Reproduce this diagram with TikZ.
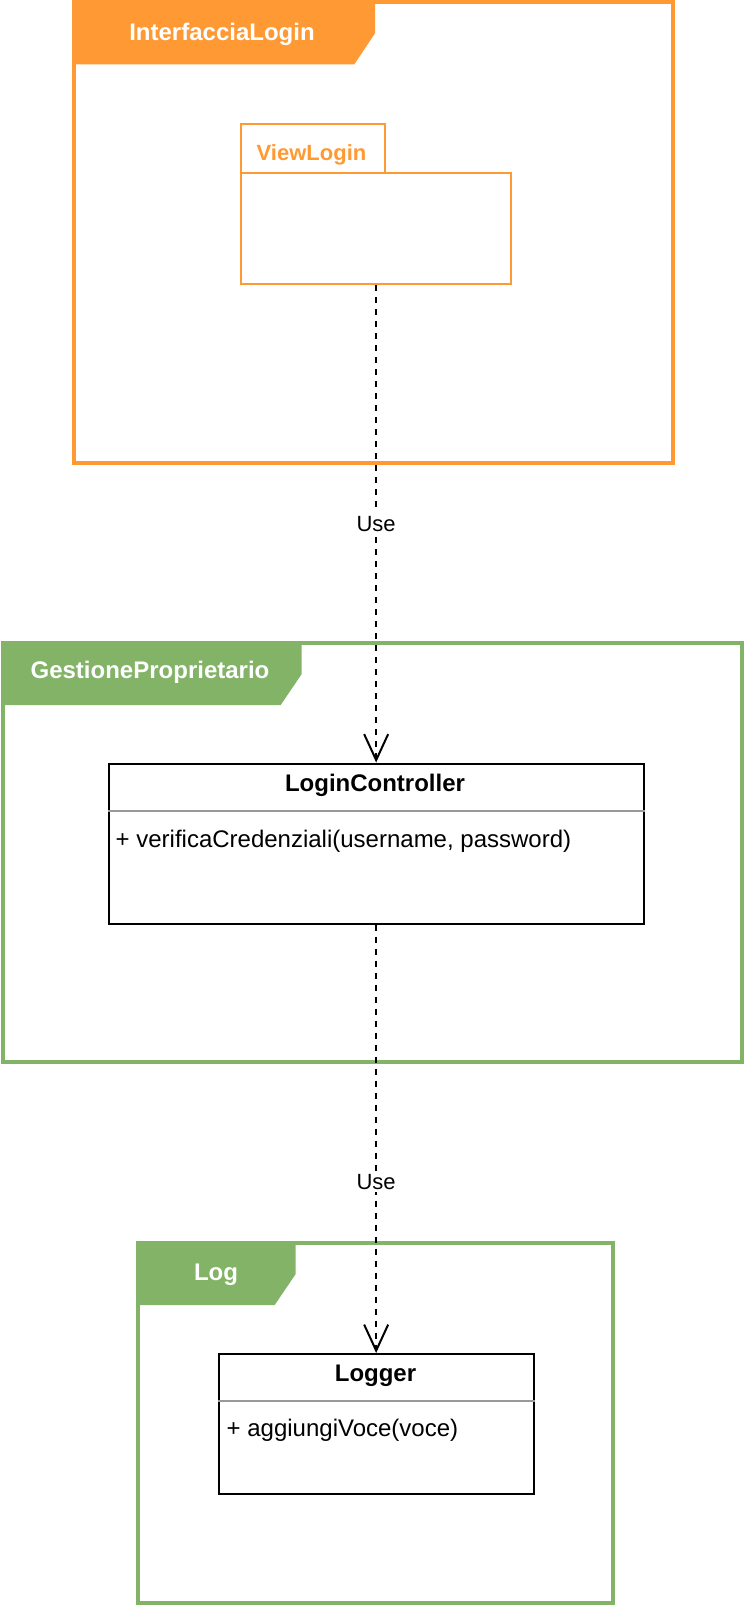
\documentclass[tikz,border=0pt]{standalone}
\usepackage{fontspec}
\setmainfont{Liberation Sans}
\usetikzlibrary{arrows.meta}
\definecolor{uorange}{HTML}{FF9933}
\definecolor{ugreen}{HTML}{82B366}
\definecolor{usep}{HTML}{999999}
\tikzset{
  framebox/.style={line width=4pt},
  classbox/.style={draw=black, line width=2pt, fill=white, anchor=north west, inner sep=0pt},
  pkgbox/.style={draw=uorange, line width=2pt, anchor=north west, inner sep=0pt},
  framelabel/.style={text=white, font=\fontsize{24}{28}\selectfont\bfseries, anchor=base, inner sep=0pt},
  classtitle/.style={font=\fontsize{24}{28}\selectfont\bfseries, anchor=base, inner sep=0pt},
  methodtext/.style={font=\fontsize{24}{28}\selectfont, anchor=base west, inner sep=0pt},
  uselink/.style={line width=2pt, dash pattern=on 6pt off 6pt, -{Straight Barb[length=26pt,width=24pt,line width=2pt]}},
  uselabel/.style={fill=white, font=\fontsize{22}{26}\selectfont, inner sep=3pt}
}
\begin{document}
\begin{tikzpicture}[x=1pt,y=-1pt]
\useasboundingbox (0,0) rectangle (744,1606);
% ---- InterfacciaLogin frame
\fill[uorange] (73.7,2.3) -- (375,2.3) -- (375,33.3) -- (354.3,64.3) -- (73.7,64.3) -- cycle;
\draw[framebox, draw=uorange] (73.7,2.3) rectangle (672.7,462.7);
\node[framelabel] (lblIL) at (222,40) {InterfacciaLogin};
% ViewLogin package
\node[pkgbox, minimum width=144.3pt, minimum height=49.6pt] (vltab) at (240,122.7) {};
\node[pkgbox, minimum width=270.3pt, minimum height=110.7pt] (vl) at (240,172.3) {};
\node[anchor=base, inner sep=0pt, text=uorange, font=\fontsize{22}{26}\selectfont\bfseries] (vllbl) at (311.5,160) {ViewLogin};
% ---- GestioneProprietario frame
\fill[ugreen] (3,643) -- (301.7,643) -- (301.7,674) -- (280.7,705) -- (3,705) -- cycle;
\draw[framebox, draw=ugreen] (3,643) rectangle (742.3,1062);
\node[framelabel] (lblGP) at (150,678.3) {GestioneProprietario};
% LoginController class
\node[classbox, minimum width=535pt, minimum height=160pt] (lc) at (107.5,762.5) {};
\draw[usep, line width=2pt] (lc.north west) ++(0,48) coordinate (lcs1) -- (lcs1 -| lc.north east);
\node[classtitle] (lct) at (375,791) {LoginController};
\node[methodtext] (lcm) at (115.5,847) {+ verificaCredenziali(username, password)};
% ---- Log frame
\fill[ugreen] (138,1243) -- (295.7,1243) -- (295.7,1274) -- (274.7,1305) -- (138,1305) -- cycle;
\draw[framebox, draw=ugreen] (138,1243) rectangle (612.8,1603);
\node[framelabel] (lblLog) at (216,1280) {Log};
% Logger class
\node[classbox, minimum width=315pt, minimum height=139.5pt] (lg) at (218,1353) {};
\draw[usep, line width=2pt] (lg.north west) ++(0,47.5) coordinate (lgs1) -- (lgs1 -| lg.north east);
\node[classtitle] (lgt) at (375.5,1381.2) {Logger};
\node[methodtext] (lgm) at (226.5,1436.2) {+ aggiungiVoce(voce)};
% ---- Connectors
\draw[uselink] (vl.south) -- node[uselabel, pos=0.5] {Use} (vl.south |- lc.north);
\draw[uselink] (vl.south |- lc.south) -- node[uselabel, pos=0.6] {Use} (vl.south |- lg.north);
\end{tikzpicture}
\end{document}
